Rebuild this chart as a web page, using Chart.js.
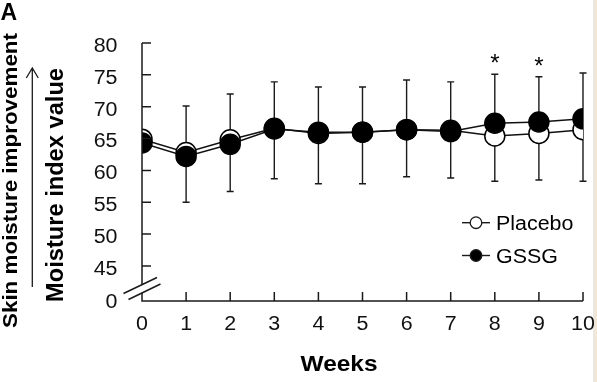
<!DOCTYPE html>
<html>
<head>
<meta charset="utf-8">
<script src="https://cdn.jsdelivr.net/npm/chart.js@4"></script>
<style>
  html, body { margin: 0; padding: 0; background: #ffffff; }
  #wrap { width: 597px; height: 382px; position: relative; }
</style>
</head>
<body>
<div id="wrap"><canvas id="c" width="597" height="382"></canvas></div>
<script>
// ---- data ----
const weeks = [0, 1, 2, 3, 4, 5, 6, 7, 8, 9, 10];
const placebo = [64.9, 62.8, 64.8, 66.6, 65.8, 66.0, 66.4, 66.3, 65.4, 65.8, 66.4];
const gssg = [64.3, 62.2, 64.1, 66.5, 66.0, 66.0, 66.4, 66.1, 67.4, 67.6, 68.1];
const errHigh = [null, 70.1, 72.0, 73.9, 73.1, 73.1, 74.2, 73.9, 75.1, 74.7, 75.3];
const errLow = [null, 55.0, 56.7, 58.7, 57.9, 57.9, 59.0, 58.8, 58.3, 58.5, 58.3];
const significance = ['', '', '', '', '', '', '', '', '*', '*', ''];
const yTickValues = [45, 50, 55, 60, 65, 70, 75, 80];
const yBreakValue = 39.5;      // axis bottom, labelled "0" (broken axis)
const yBreakLabel = '0';
const seriesNames = ['Placebo', 'GSSG'];
const xTitle = 'Weeks';
const yTitleOuter = 'Skin moisture improvement';
const yTitleInner = 'Moisture index value';
const panelLabel = 'A';

const FONT = '"Liberation Sans", Arial, sans-serif';
const HSCALE = 1.07;

function fitText(ctx, text, targetW) {
  const w = ctx.measureText(text).width;
  return targetW / w;
}
function drawScaled(ctx, text, x, y, align, sx) {
  ctx.save();
  ctx.translate(x, y);
  ctx.scale(sx, 1);
  ctx.textAlign = align;
  ctx.fillText(text, 0, 0);
  ctx.restore();
}

const decorations = {
  id: 'decorations',
  beforeDatasetsDraw(chart) {
    const ctx = chart.ctx;
    const xs = chart.scales.x, ys = chart.scales.y;
    ctx.save();
    ctx.strokeStyle = '#1a1a1a';
    ctx.lineWidth = 1.4;
    for (let i = 0; i < weeks.length; i++) {
      if (errHigh[i] == null) continue;
      const x = xs.getPixelForValue(weeks[i]);
      const yt = ys.getPixelForValue(errHigh[i]);
      const yb = ys.getPixelForValue(errLow[i]);
      ctx.beginPath();
      ctx.moveTo(x, yt); ctx.lineTo(x, yb);
      ctx.moveTo(x - 3.5, yt); ctx.lineTo(x + 3.5, yt);
      ctx.moveTo(x - 3.5, yb); ctx.lineTo(x + 3.5, yb);
      ctx.stroke();
    }
    ctx.restore();
  },
  afterDraw(chart) {
    const ctx = chart.ctx;
    const xs = chart.scales.x, ys = chart.scales.y;
    const x0 = xs.getPixelForValue(0);
    const y0 = ys.getPixelForValue(yBreakValue);
    ctx.save();
    ctx.strokeStyle = '#1a1a1a';
    ctx.lineWidth = 1.5;
    // y axis with break
    ctx.beginPath();
    ctx.moveTo(x0, ys.getPixelForValue(80));
    ctx.lineTo(x0, y0 - 16.5);
    ctx.moveTo(x0, y0 - 8.2);
    ctx.lineTo(x0, y0);
    // x axis
    ctx.lineTo(xs.getPixelForValue(10), y0);
    ctx.stroke();
    // break slashes
    ctx.beginPath();
    ctx.moveTo(x0 - 18.5, y0 - 7.5); ctx.lineTo(x0 + 15, y0 - 23.5);
    ctx.moveTo(x0 - 13.5, y0 - 1.5); ctx.lineTo(x0 + 18.5, y0 - 17);
    ctx.stroke();
    // y ticks (inward)
    ctx.beginPath();
    yTickValues.forEach(v => {
      const y = ys.getPixelForValue(v);
      ctx.moveTo(x0, y); ctx.lineTo(x0 + 9, y);
    });
    // x ticks (inward)
    weeks.forEach(w => {
      if (w === 0) return;
      const x = xs.getPixelForValue(w);
      ctx.moveTo(x, y0); ctx.lineTo(x, y0 - 9);
    });
    ctx.stroke();

    // tick labels
    ctx.fillStyle = '#111';
    ctx.font = '20px ' + FONT;
    ctx.textBaseline = 'alphabetic';
    ys.ticks.forEach(t => {
      const y = ys.getPixelForValue(t.value);
      const lbl = t.value === yBreakValue ? yBreakLabel : String(t.value);
      drawScaled(ctx, lbl, 117.5, y + (t.value === yBreakValue ? 7 : 8.8), 'right', HSCALE);
    });
    xs.ticks.forEach(t => {
      const x = xs.getPixelForValue(t.value);
      drawScaled(ctx, String(t.value), x, 330, 'center', HSCALE);
    });

    // significance stars
    ctx.fillStyle = '#000';
    ctx.font = '24px ' + FONT;
    ctx.textAlign = 'center';
    ctx.textBaseline = 'alphabetic';
    significance.forEach((s, i) => {
      if (!s) return;
      const x = xs.getPixelForValue(weeks[i]);
      const y = ys.getPixelForValue(errHigh[i]);
      ctx.fillText(s, x, y - 3);
    });

    // legend
    const lx = 462, lw = 28;
    const legendY = [222.7, 255.5];
    const fills = ['#ffffff', '#000000'];
    ctx.font = '20px ' + FONT;
    ctx.textBaseline = 'alphabetic';
    legendY.forEach((ly, i) => {
      ctx.beginPath();
      ctx.lineWidth = 1.4;
      ctx.moveTo(lx, ly); ctx.lineTo(lx + lw, ly);
      ctx.stroke();
      ctx.beginPath();
      ctx.arc(lx + lw / 2, ly, 5.8, 0, Math.PI * 2);
      ctx.fillStyle = fills[i];
      ctx.fill();
      ctx.lineWidth = 1.3;
      ctx.stroke();
      ctx.fillStyle = '#000';
      drawScaled(ctx, seriesNames[i], 496, ly + 7.2, 'left', HSCALE);
    });

    // x title
    ctx.font = 'bold 22px ' + FONT;
    ctx.textAlign = 'center';
    ctx.textBaseline = 'alphabetic';
    ctx.save();
    ctx.translate(339, 370.5);
    ctx.scale(fitText(ctx, xTitle, 77), 1);
    ctx.fillText(xTitle, 0, 0);
    ctx.restore();

    // y titles (rotated)
    ctx.save();
    ctx.font = 'bold 21px ' + FONT;
    ctx.translate(16.8, 180.5);
    ctx.rotate(-Math.PI / 2);
    ctx.scale(fitText(ctx, yTitleOuter, 295), 1);
    ctx.fillText(yTitleOuter, 0, 0);
    ctx.restore();

    ctx.save();
    ctx.font = 'bold 23px ' + FONT;
    ctx.translate(63.3, 185);
    ctx.rotate(-Math.PI / 2);
    ctx.scale(fitText(ctx, yTitleInner, 234), 1);
    ctx.fillText(yTitleInner, 0, 0);
    ctx.restore();

    // arrow
    ctx.beginPath();
    ctx.lineWidth = 1.3;
    ctx.moveTo(32.3, 287); ctx.lineTo(32.3, 68.5);
    ctx.moveTo(26.3, 78); ctx.lineTo(32.3, 68); ctx.lineTo(38.3, 78);
    ctx.stroke();

    // panel label
    ctx.font = 'bold 23px ' + FONT;
    ctx.textAlign = 'left';
    ctx.fillText(panelLabel, 0.5, 20);
    ctx.restore();
  }
};

const bgPlugin = {
  id: 'bg',
  beforeDraw(chart) {
    const ctx = chart.ctx;
    ctx.save();
    ctx.fillStyle = '#ffffff';
    ctx.fillRect(0, 0, chart.width, chart.height);
    // right edge strip
    ctx.fillStyle = '#f3e7d3';
    ctx.fillRect(593, 0, 4, chart.height);
    ctx.restore();
  }
};

const toPts = arr => weeks.map((w, i) => ({ x: w, y: arr[i] }));

new Chart(document.getElementById('c'), {
  type: 'line',
  data: {
    datasets: [
      {
        label: seriesNames[1],
        data: toPts(gssg),
        borderColor: '#111',
        borderWidth: 1.5,
        pointRadius: 10,
        pointBorderWidth: 1.5,
        pointBackgroundColor: '#000',
        pointBorderColor: '#000',
        tension: 0
      },
      {
        label: seriesNames[0],
        data: toPts(placebo),
        borderColor: '#111',
        borderWidth: 1.5,
        pointRadius: 10,
        pointBorderWidth: 1.5,
        pointBackgroundColor: '#fff',
        pointBorderColor: '#000',
        tension: 0
      }
    ]
  },
  options: {
    responsive: false,
    animation: false,
    events: [],
    layout: { padding: { left: 0, top: 43, right: 14, bottom: 0 } },
    plugins: { legend: { display: false }, tooltip: { enabled: false } },
    scales: {
      x: {
        type: 'linear',
        min: 0, max: 10,
        grid: { display: false, drawTicks: false },
        border: { display: false },
        afterBuildTicks: s => { s.ticks = weeks.map(v => ({ value: v })); },
        afterFit: s => { s.height = 81; },
        ticks: { display: false, autoSkip: false }
      },
      y: {
        type: 'linear',
        min: yBreakValue, max: 80,
        grid: { display: false, drawTicks: false },
        border: { display: false },
        afterBuildTicks: s => {
          s.ticks = [yBreakValue].concat(yTickValues).map(v => ({ value: v }));
        },
        afterFit: s => { s.width = 142; },
        ticks: { display: false, autoSkip: false }
      }
    }
  },
  plugins: [bgPlugin, decorations]
});
</script>
</body>
</html>
